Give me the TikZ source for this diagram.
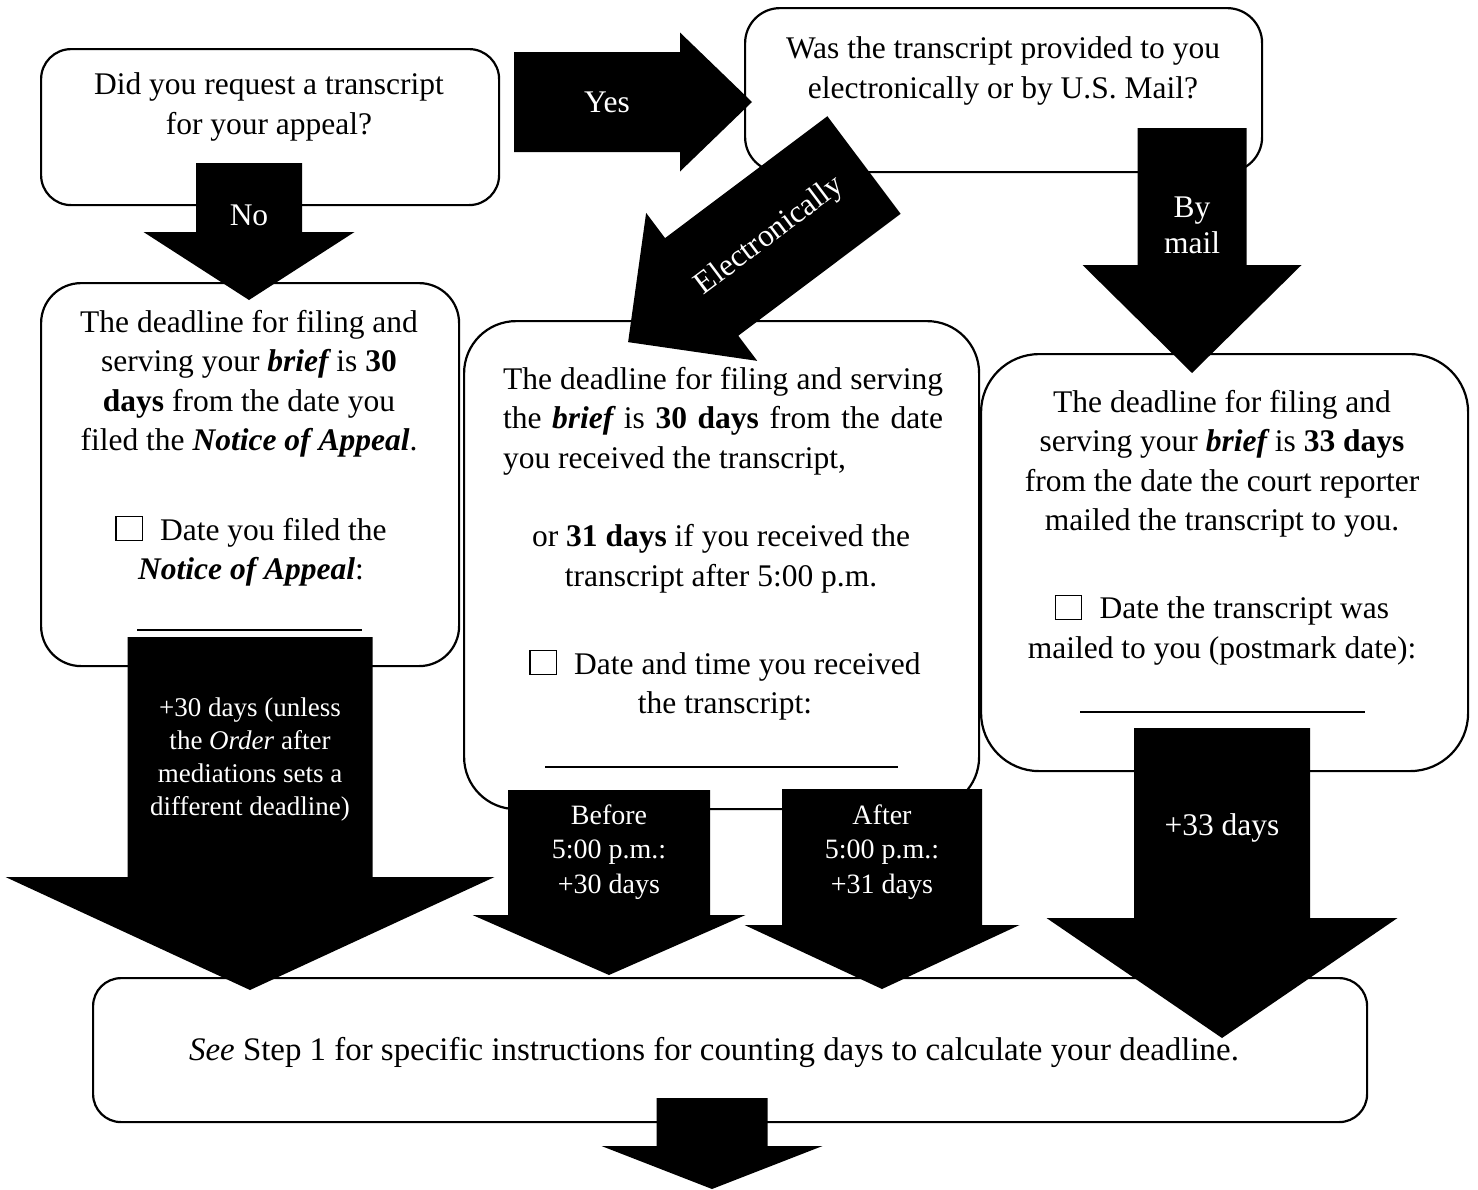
\documentclass[tikz,border=0pt]{standalone}
\usepackage{fontspec}
\setmainfont{Liberation Serif}

\newcommand\ballot{{\setlength\fboxrule{1.2pt}\setlength\fboxsep{0pt}%
  \fbox{\rule{0pt}{23pt}\hspace{25pt}}}\hspace{0.55em}}
\newcommand\bi[1]{{\bfseries\itshape #1}}
% tail, angle, length, shaft width, head width, head length
\newcommand\fatarrow[6]{%
  \fill[shift={#1}, rotate=#2]
    (0,-#4/2) -- (#3-#6,-#4/2) -- (#3-#6,-#5/2) -- (#3,0)
    -- (#3-#6,#5/2) -- (#3-#6,#4/2) -- (0,#4/2) -- cycle;}

\tikzset{
  roundbox/.style={draw, line width=2.2pt, fill=white, rounded corners=#1,
    inner sep=0pt, anchor=north west},
  boxtext/.style={align=center, font=\fontsize{31.5}{39.5}\selectfont},
  arrowtext/.style={text=white, align=center, font=\fontsize{31.5}{36}\selectfont},
  smalltext/.style={arrowtext, font=\fontsize{27}{33}\selectfont},
  blank/.style={line width=1.2pt},
}

\begin{document}
\begin{tikzpicture}[x=1pt, y=-1pt]
\useasboundingbox[fill=white] (0,0) rectangle (1478,1189);

% boxes
\node[roundbox=30pt, minimum width=458pt, minimum height=156pt] (ask) at (40,48) {};
\node[roundbox=35pt, minimum width=517pt, minimum height=164pt] (how) at (744,7) {};
\node[roundbox=40pt, minimum width=418pt, minimum height=383pt] (nobox) at (40,282) {};
\node[roundbox=52pt, minimum width=515pt, minimum height=488pt] (elecbox) at (463,320) {};
\node[roundbox=58pt, minimum width=487pt, minimum height=417pt] (mailbox) at (980,353) {};
\node[roundbox=28pt, minimum width=1274pt, minimum height=144pt] (see) at (92,977) {};

\node[boxtext] (askText) at (269,107) {Did you request a transcript\\for your appeal?};
\node[boxtext] (howText) at (1003,71) {Was the transcript provided to you\\electronically or by U.S. Mail?};

\node[boxtext] (noText) at (249,384) {The deadline for filing and\\serving your \bi{brief} is \textbf{30}\\\textbf{days} from the date you\\filed the \bi{Notice of Appeal}.};
\node[boxtext] (noDate) at (251,551) {\ballot Date you filed the\\\bi{Notice of Appeal}:};
\draw[blank] (137,630) -- (362,630);

\node[boxtext, align=justify, text width=440pt] (elecText) at (723,421) {The deadline for filing and serving\linebreak the \bi{brief} is \textbf{30 days} from the date\linebreak you received the transcript,};
\node[boxtext] (elecLate) at (721,559) {or \textbf{31 days} if you received the\\transcript after 5:00 p.m.};
\node[boxtext] (elecDate) at (725,685) {\ballot Date and time you received\\the transcript:};
\draw[blank] (545,767) -- (898,767);

\node[boxtext] (mailText) at (1222,464) {The deadline for filing and\\serving your \bi{brief} is \textbf{33 days}\\from the date the court reporter\\mailed the transcript to you.};
\node[boxtext] (mailDate) at (1222,630) {\ballot Date the transcript was\\mailed to you (postmark date):};
\draw[blank] (1080,712) -- (1365,712);

\node[boxtext, font=\fontsize{32.9}{39.5}\selectfont] (seeText) at (714,1052) {\textit{See} Step 1 for specific instructions for counting days to calculate your deadline.};

% arrows
\fatarrow{(514,102)}{0}{238}{100}{139}{72}
\fatarrow{(249,163)}{-90}{137}{106}{211}{68}
\fatarrow{(864,165)}{216.9}{295}{122}{185}{92}
\fatarrow{(1192,128)}{-90}{245}{109}{219}{108}
\fatarrow{(250,637)}{-90}{353}{245}{489}{113}
\fatarrow{(609,790)}{-90}{185}{202}{273}{60}
\fatarrow{(882,789)}{-90}{200}{200}{275}{64}
\fatarrow{(1222,728)}{-90}{310}{176}{351}{120}
\fatarrow{(712,1098)}{-90}{91}{111}{221}{43}

\node[arrowtext] (yes) at (607,102) {Yes};
\node[arrowtext] (no) at (249,215) {No};
\node[arrowtext, rotate=36.9] (electronic) at (770,236) {Electronically};
\node[arrowtext] (bymail) at (1192,225) {By\\mail};
\node[smalltext] (plus30) at (250,759) {+30 days (unless\\the \textit{Order} after\\mediations sets a\\different deadline)};
\node[smalltext, font=\fontsize{28}{34.5}\selectfont] (before) at (609,852) {Before\\5:00 p.m.:\\+30 days};
\node[smalltext, font=\fontsize{28}{34.5}\selectfont] (after) at (882,852) {After\\5:00 p.m.:\\+31 days};
\node[arrowtext] (plus33) at (1222,828) {+33 days};
\end{tikzpicture}
\end{document}
